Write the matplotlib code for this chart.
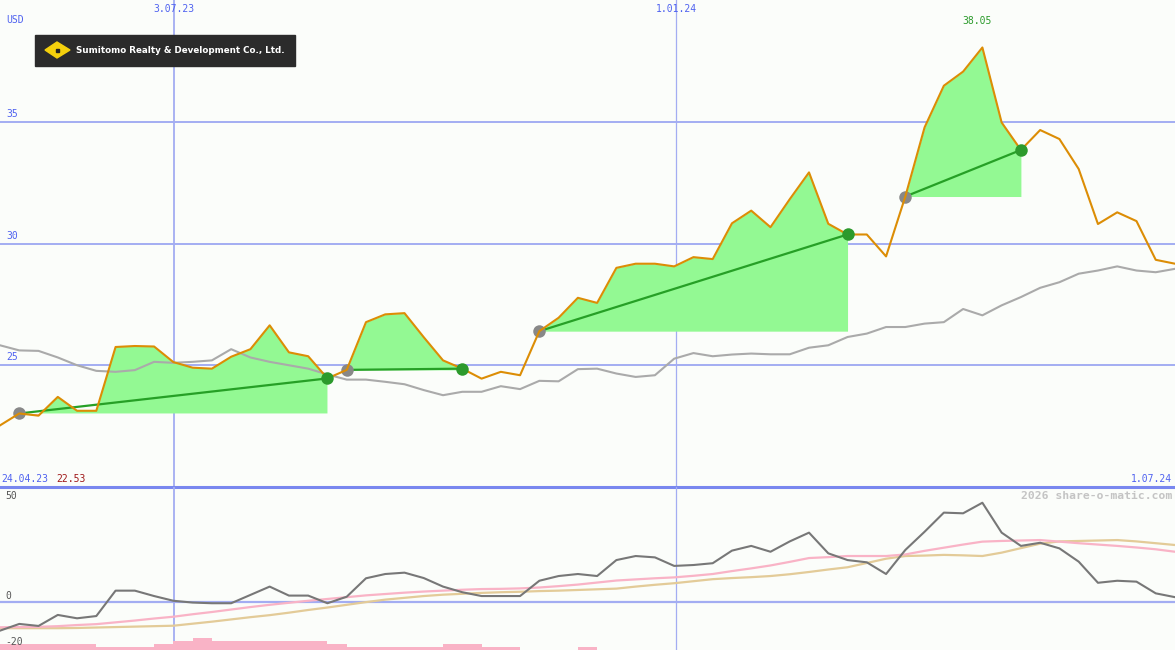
import matplotlib
matplotlib.use("Agg")
from matplotlib import pyplot as plt
from matplotlib.patches import Rectangle, Polygon
import numpy as np

W, H = 1175, 650

# weekly closes (USD)
price = [22.53, 23.02, 22.93, 23.70, 23.13, 23.13, 25.75, 25.79, 25.77, 25.13,
         24.90, 24.86, 25.35, 25.66, 26.64, 25.53, 25.37, 24.46, 24.81, 26.77,
         27.09, 27.14, 26.15, 25.20, 24.86, 24.45, 24.73, 24.59, 26.40, 26.95,
         27.77, 27.56, 29.00, 29.17, 29.17, 29.06, 29.44, 29.36, 30.83, 31.35,
         30.67, 31.82, 32.92, 30.81, 30.37, 30.37, 29.47, 31.93, 34.77, 36.48,
         37.06, 38.05, 34.97, 33.84, 34.66, 34.29, 33.06, 30.80, 31.28, 30.92,
         29.33, 29.17]
# moving average
avg = [25.82, 25.61, 25.59, 25.32, 25.00, 24.77, 24.73, 24.80, 25.14, 25.10,
       25.14, 25.20, 25.66, 25.32, 25.14, 25.00, 24.86, 24.62, 24.41, 24.41,
       24.32, 24.22, 23.98, 23.77, 23.91, 23.91, 24.14, 24.02, 24.36, 24.34,
       24.84, 24.86, 24.66, 24.52, 24.59, 25.27, 25.50, 25.37, 25.44, 25.48,
       25.45, 25.45, 25.72, 25.82, 26.16, 26.30, 26.57, 26.57, 26.71, 26.77,
       27.31, 27.05, 27.46, 27.80, 28.18, 28.41, 28.76, 28.89, 29.06, 28.89,
       28.82, 28.96]
# buy / sell signals (week index)
entries = [1, 18, 28, 47]
exits = [17, 24, 44, 53]

# lower panel indicators
momentum = [-12.9, -9.9, -10.8, -5.9, -7.4, -6.4, 4.9, 4.9, 2.5, 0.4,
            -0.4, -0.7, -0.7, 3.0, 6.7, 2.7, 2.7, -0.7, 2.2, 10.4,
            12.3, 12.9, 10.5, 6.7, 4.2, 2.5, 2.5, 2.5, 9.3, 11.4,
            12.3, 11.4, 18.5, 20.3, 19.7, 15.9, 16.3, 17.1, 22.7, 24.8,
            22.2, 26.8, 30.7, 21.5, 18.5, 17.5, 12.3, 23.0, 31.1, 39.6,
            39.3, 44.0, 30.7, 24.8, 26.2, 23.7, 17.8, 8.4, 9.3, 8.9,
            3.7, 2.0]
pink_line = [-11.4, -11.3, -11.2, -10.9, -10.4, -10.0, -9.2, -8.4, -7.5, -6.7,
             -5.6, -4.6, -3.5, -2.4, -1.4, -0.5, 0.4, 1.2, 2.0, 2.8,
             3.4, 4.0, 4.5, 4.9, 5.3, 5.6, 5.7, 5.9, 6.3, 6.9,
             7.6, 8.5, 9.4, 9.9, 10.4, 10.8, 11.5, 12.3, 13.6, 14.8,
             16.1, 17.7, 19.4, 19.8, 20.3, 20.3, 20.3, 21.0, 22.6, 24.0,
             25.4, 26.7, 27.0, 27.2, 27.4, 26.7, 26.0, 25.4, 24.8, 24.1,
             23.3, 22.2]
tan_line = [-11.8, -11.8, -11.8, -11.8, -11.7, -11.5, -11.3, -11.1, -10.9, -10.7,
            -9.8, -8.9, -7.9, -6.9, -6.0, -4.9, -3.7, -2.6, -1.4, -0.2,
            0.9, 1.7, 2.5, 3.1, 3.5, 3.9, 4.2, 4.4, 4.7, 4.9,
            5.2, 5.5, 5.8, 6.7, 7.5, 8.2, 9.1, 10.0, 10.5, 10.9,
            11.4, 12.2, 13.2, 14.3, 15.3, 17.2, 19.1, 20.3, 20.5, 20.8,
            20.6, 20.3, 21.8, 23.8, 25.8, 26.8, 27.0, 27.2, 27.4, 26.8,
            26.0, 25.2]
vol_level = [2, 2, 2, 2, 2, 1, 1, 1, 2, 3,
             4, 3, 3, 3, 3, 3, 3, 2, 1, 1,
             1, 1, 1, 2, 2, 1, 1, 0, 0, 0,
             1, 0, 0, 0, 0, 0, 0, 0, 0, 0,
             0, 0, 0, 0, 0, 0, 0, 0, 0, 0,
             0, 0, 0, 0, 0, 0, 0, 0, 0, 0,
             0, 0]

date_ticks = [9.03, 35.1]
date_labels = ['3.07.23', '1.01.24']
price_grid = [25, 30, 35]

bg = '#fbfdfa'
gridc = '#a3adf2'
blue_txt = '#4f62f0'
mono = 'DejaVu Sans Mono'

x = np.arange(len(price))
price = np.array(price)

fig = plt.figure(figsize=(W / 100, H / 100), dpi=100, facecolor=bg)
split = 163 / H
ax = fig.add_axes([0, split, 1, 1 - split])
ax2 = fig.add_axes([0, 0, 1, split])
for a in (ax, ax2):
    a.set_facecolor(bg)
    a.set_xlim(0, len(price) - 1)
    a.set_axis_off()
    for t in date_ticks:
        a.axvline(t, color=gridc, lw=1.3 if t < 20 else 0.9, zorder=1)

ax.set_ylim(20, 40)
for g in price_grid:
    ax.axhline(g, color=gridc, lw=1.4, zorder=1)
    ax.text(0.005, g + 0.12, str(g), transform=ax.get_yaxis_transform(),
            color=blue_txt, fontsize=7, family=mono, va='bottom')
ax.axhline(20, color='#7987ef', lw=2.2, zorder=1, clip_on=False)

# signal areas
for s, e in zip(entries, exits):
    xs = x[s:e + 1]
    ps = price[s:e + 1]
    base = price[s]
    ax.fill_between(xs, ps, base, where=ps >= base, interpolate=True,
                    color='#93f993', lw=0, zorder=2)
    ax.fill_between(xs, ps, base, where=ps < base, interpolate=True,
                    color='#f9b3c6', lw=0, zorder=2)
    ax.plot([s, e], [price[s], price[e]], color='#26a026', lw=1.6, zorder=4)

ax.plot(x, avg, color='#aaaaaa', lw=1.5, zorder=3)
ax.plot(x, price, color='#dc8d05', lw=1.5, zorder=5)
ax.plot(entries, price[entries], 'o', color='#888888', ms=9, mew=0, zorder=4)
ax.plot(exits, price[exits], 'o', color='#2c9a2c', ms=9, mew=0, zorder=6)

# lower panel
lo, hi = -21.5, 51
ax2.set_ylim(lo, hi)
ax2.axhline(0, color=gridc, lw=1.6, zorder=1)
ax2.bar(x, np.array(vol_level) * 1.3, width=1, align='edge', bottom=lo,
        color='#f9b3c6', lw=0, zorder=2)
ax2.plot(x, tan_line, color='#e3cb98', lw=1.6, zorder=3)
ax2.plot(x, pink_line, color='#f9b3c6', lw=1.6, zorder=3)
ax2.plot(x, momentum, color='#777777', lw=1.5, zorder=4)


def fx(px):
    return px / W


def fy(py):
    return 1 - py / H


fig.text(fx(6), fy(20), 'USD', color=blue_txt, fontsize=7, family=mono, va='center')
for t, lab in zip(date_ticks, date_labels):
    fig.text(t / (len(price) - 1), fy(9), lab, color=blue_txt, fontsize=7,
             family=mono, ha='center', va='center')
fig.text(fx(977), fy(21), '%.2f' % price.max(), color='#2a9a2a', fontsize=7,
         family=mono, ha='center', va='center')
fig.text(fx(1), fy(479), '24.04.23', color=blue_txt, fontsize=7, family=mono, va='center')
fig.text(fx(56), fy(479), '%.2f' % price[0], color='#a01818', fontsize=7,
         family=mono, va='center')
fig.text(fx(1172), fy(479), '1.07.24', color=blue_txt, fontsize=7, family=mono,
         ha='right', va='center')
fig.text(fx(1172), fy(496), '2026 share-o-matic.com', color='#c4c4c4', fontsize=8.2,
         family=mono, weight='bold', ha='right', va='center')
for lab, py in [('50', 496), ('0', 596), ('-20', 642)]:
    fig.text(fx(5), fy(py), lab, color='#555555', fontsize=7, family=mono, va='center')

# company logo
fig.patches.append(Rectangle((fx(35), fy(66)), fx(260), 31 / H,
                             transform=fig.transFigure, color='#2b2b2b', zorder=10))
fig.patches.append(Polygon([(fx(45), fy(50)), (fx(57), fy(42)), (fx(70), fy(50)),
                            (fx(57), fy(58))], closed=True,
                           transform=fig.transFigure, color='#f4d00c', zorder=11))
fig.patches.append(Rectangle((fx(56), fy(52)), fx(3), 3 / H,
                             transform=fig.transFigure, color='#222222', zorder=12))
fig.text(fx(76), fy(50.5), 'Sumitomo Realty & Development Co., Ltd.', color='white',
         fontsize=6.35, weight='bold', va='center', zorder=12)

fig.savefig('out.png', dpi=100, facecolor=bg)
